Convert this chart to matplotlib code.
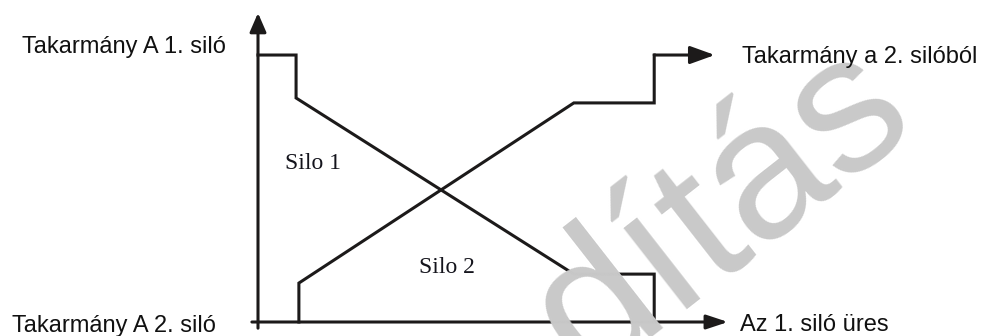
import matplotlib
matplotlib.use("Agg")
import matplotlib.pyplot as plt

# schematic: time on x (0-100), silo content on y (0-100)
silo1_x = [0, 8.1, 8.1, 67.2, 84.3, 84.3]
silo1_y = [86.4, 86.4, 72.5, 15.5, 15.5, 0]
silo2_x = [8.7, 8.7, 67.2, 84.3, 84.3]
silo2_y = [0, 12.6, 70.9, 70.9, 86.4]
silo2_arrow_end = 97.2

labels = {
    "top_left": "Takarmány A 1. siló",
    "bottom_left": "Takarmány A 2. siló",
    "top_right": "Takarmány a 2. silóból",
    "bottom_right": "Az 1. siló üres",
    "silo1": "Silo 1",
    "silo2": "Silo 2",
}

W, H = 984, 336
fig = plt.figure(figsize=(W / 100, H / 100), dpi=100)
# axis origin at pixel (258, 322); 4.7 px per x unit, 3.09 px per y unit
x0, y0 = 258, 322
ax = fig.add_axes([x0 / W, (H - y0) / H, 470 / W, 309 / H])
ax.set_xlim(0, 100)
ax.set_ylim(0, 100)
ax.axis("off")

ink = "#1c1a1a"
lw = 2.2

# watermark
fig.text(722 / W, 1 - 212 / H, "dítás", color="#c9c9c9", fontsize=140,
         family="Liberation Sans", rotation=38, ha="center", va="center",
         zorder=0)

# axes with arrows
ax.annotate("", xy=(100, 0), xytext=(-1.3, 0), annotation_clip=False,
            arrowprops=dict(arrowstyle="-|>,head_length=1.3,head_width=0.43",
                            mutation_scale=10, lw=lw, color=ink,
                            shrinkA=0, shrinkB=0))
ax.annotate("", xy=(0, 100), xytext=(0, -2), annotation_clip=False,
            arrowprops=dict(arrowstyle="-|>,head_length=1.15,head_width=0.5",
                            mutation_scale=10, lw=lw, color=ink,
                            shrinkA=0, shrinkB=0))

ax.plot(silo1_x, silo1_y, color=ink, lw=lw, solid_joinstyle="miter",
        clip_on=False)
ax.plot(silo2_x, silo2_y, color=ink, lw=lw, solid_joinstyle="miter",
        clip_on=False)
ax.annotate("", xy=(silo2_arrow_end, silo2_y[-1]),
            xytext=(silo2_x[-1], silo2_y[-1]), annotation_clip=False,
            arrowprops=dict(arrowstyle="-|>,head_length=1.5,head_width=0.54",
                            mutation_scale=10, lw=lw, color=ink,
                            shrinkA=0, shrinkB=0))

sans = dict(family="Liberation Sans", fontsize=17, color="#111111",
            va="baseline")
serif = dict(family="Liberation Serif", fontsize=17, color="#14141c",
             va="baseline")

fig.text(22 / W, 1 - 52.7 / H, labels["top_left"], **sans)
fig.text(12 / W, 1 - 331.7 / H, labels["bottom_left"], **sans)
fig.text(742 / W, 1 - 63.3 / H, labels["top_right"], **sans)
fig.text(740 / W, 1 - 331 / H, labels["bottom_right"], **sans)
fig.text(285 / W, 1 - 169 / H, labels["silo1"], **serif)
fig.text(419 / W, 1 - 272.7 / H, labels["silo2"], **serif)

fig.savefig("out.png", dpi=100, facecolor="white")
